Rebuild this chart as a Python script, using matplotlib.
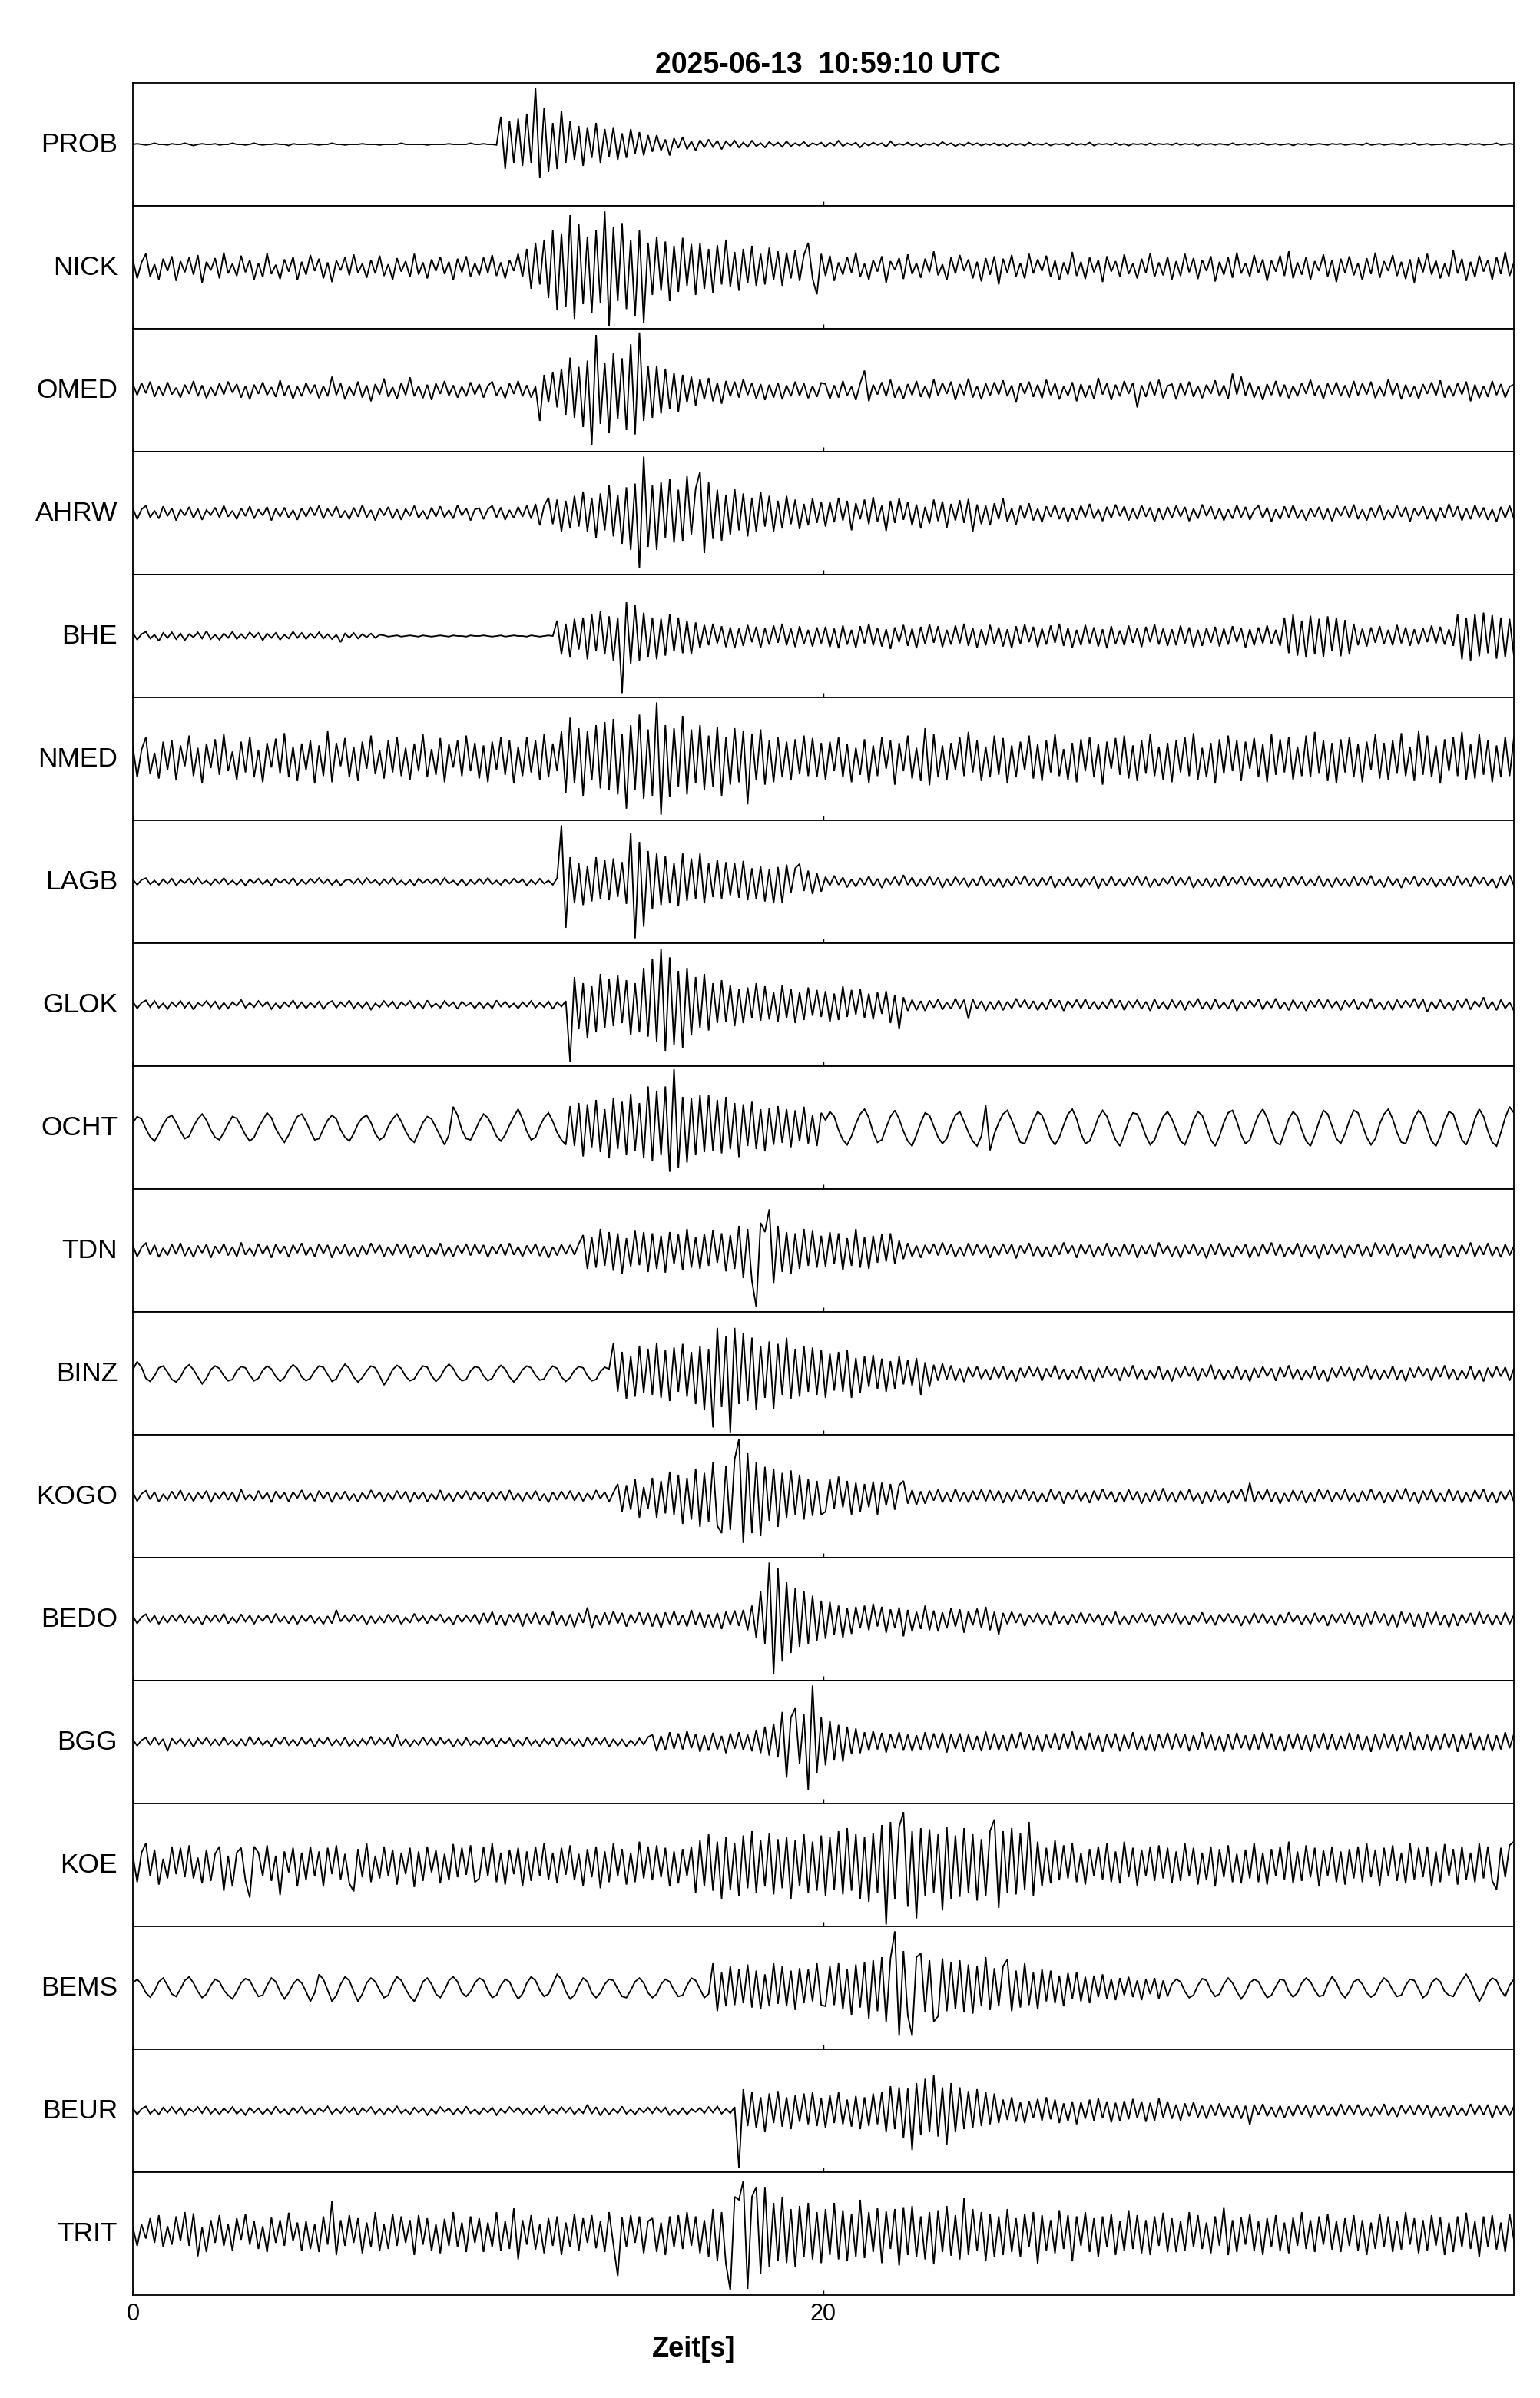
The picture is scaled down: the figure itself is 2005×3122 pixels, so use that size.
import numpy as np
import matplotlib
matplotlib.use("Agg")
import matplotlib.pyplot as plt

plt.rcParams["font.family"] = ["Liberation Sans", "DejaVu Sans"]

TITLE = "2025-06-13  10:59:10 UTC"
XLABEL = "Zeit[s]"
DURATION = 40.0          # seconds shown
XTICKS = [0, 20]
XTICK_LABELS = ["0", "20"]

stations = ["PROB", "NICK", "OMED", "AHRW", "BHE", "NMED", "LAGB", "GLOK", "OCHT",
            "TDN", "BINZ", "KOGO", "BEDO", "BGG", "KOE", "BEMS", "BEUR", "TRIT"]

# normalised amplitudes (percent of half trace height), 8 samples per second
PROB = [0,1,0,-1,0,2,0,0,-1,1, 0,0,2,0,-2,0,1,0,0,1, -1,0,0,2,0,0,-1,0,2,0, -1,0,0,1,0,0,-2,1,0,0,
        0,1,0,-1,0,0,2,0,0,-1, 0,0,0,1,0,0,0,-1,0,0, 0,0,2,0,0,0,0,0,-1,0, 0,0,0,1,0,0,0,0,2,0,
        0,1,0,0,-1,45,-40,38,-30,42, -35,50,-30,92,-55,60,-45,35,-40,55, -30,38,-25,30,-35,28,-22,35,-30,25, -20,28,-25,18,-22,25,-15,20,-18,15,
        -12,15,-10,8,-18,10,-6,12,-8,5, -10,7,-5,8,-4,6,-8,5,-3,6, -5,3,-4,6,-3,2,-5,4,-2,3, -4,5,-3,2,-2,4,-3,2,-1,3,
        -4,3,-2,6,-3,2,-1,3,-5,2, -2,3,-1,2,-4,5,-2,1,-1,3, -2,2,-3,1,-1,2,-2,4,-1,2, -3,1,-2,3,-1,2,-2,1,-1,2,
        -2,1,-3,2,-1,1,-2,3,-1,1, -1,2,-2,1,0,1,-2,2,-1,1, -1,3,-2,1,0,1,-1,2,-1,1, -2,1,0,1,-1,2,-1,1,0,1,
        -1,2,-1,1,0,1,-2,1,0,1, -1,1,0,-1,2,-1,0,1,-1,1, 0,2,-1,0,1,-1,0,1,-2,1, 0,1,-1,0,1,0,-1,1,0,1,
        -1,0,1,0,-1,2,-1,0,1,-1, 0,1,0,-1,1,0,2,-1,0,1, -1,0,0,1,-1,0,1,0,-1,1, 0,1,-1,0,0,2,-1,0,1,0]

NICK = [12,-18,8,22,-15,5,-20,14,-6,18, -22,10,-8,16,-12,20,-25,9,-5,15, -18,24,-10,6,-14,19,-8,12,-20,7, -16,23,-11,4,-19,13,-7,17,-21,9,
        -12,20,-6,14,-18,8,-24,11,-5,16, -13,21,-9,6,-17,12,-10,19,-14,5, -20,15,-7,10,-16,22,-12,8,-18,13, -6,17,-11,9,-21,14,-8,18,-15,7,
        -13,16,-9,20,-14,8,-18,12,-6,22, -16,30,-35,40,-28,45,-50,60,-70,55, -65,85,-84,70,-60,50,-75,60,-58,91, -95,65,-55,72,-68,45,-80,60,-90,40,
        -45,50,-38,42,-55,35,-40,48,-30,38, -45,40,-35,30,-42,36,-28,45,-32,25, -38,30,-26,35,-30,22,-28,32,-20,26, -30,24,-18,28,-22,20,40,-18,-44,22,
        -14,19,-22,8,-12,17,-9,24,-16,6, -20,12,-7,18,-25,10,-4,15,-19,21, -11,7,-17,14,-8,26,-13,5,-21,16, -10,20,-6,13,-18,9,-23,15,-12,18,
        -28,14,-9,20,-15,7,-18,22,-10,13, -6,19,-16,11,-21,8,-12,25,-14,9, -19,16,-8,12,-24,18,-7,10,-15,21, -11,6,-18,14,-9,23,-16,8,-13,17,
        -20,10,-14,22,-8,15,-19,12,-6,18, -23,9,-12,16,-17,24,-10,7,-15,20, -9,13,-22,11,-7,19,-14,26,-18,8, -12,17,-20,10,-6,21,-15,12,-24,14,
        -9,18,-13,7,-21,15,-11,24,-17,10, -6,20,-14,9,-19,13,-25,16,-8,22, -12,11,-18,6,-15,28,-10,14,-22,9, -16,19,-7,12,-20,17,-11,25,-14,8]

OMED = [10,-8,12,-5,14,-11,6,-9,13,-7, 4,-12,9,-6,15,-10,8,-13,5,-9, 11,-7,14,-4,10,-12,7,-15,9,-6, 13,-8,5,-11,16,-9,8,-14,6,-10,
        12,-6,9,-13,7,-10,22,-8,11,-15, 6,-9,14,-12,8,-18,10,-7,19,-11, 5,-14,12,-8,21,-10,7,-13,9,-16, 11,-6,15,-9,8,-12,6,-10,13,-7,
        10,-12,7,14,-9,5,-13,11,-6,15, -10,8,-12,6,-50,25,-20,30,-28,35, -40,53,-45,38,-60,48,-90,90,-55,45, -70,60,-47,52,-65,75,-72,94,-50,40,
        -45,40,-38,35,-30,28,-35,25,-20,22, -25,18,-15,20,-18,12,-22,15,-10,14, -12,18,-8,12,-14,10,-16,9,-12,12, -15,8,-10,14,-9,11,-13,7,-11,12,
        10,-14,8,-12,15,-9,6,-16,11,32, -18,9,-7,13,-10,17,-12,6,-14,10, -8,15,-11,7,-13,18,-9,12,-6,14, -16,10,-8,19,-12,7,-15,11,-9,13,
        -7,16,-10,8,-20,12,-6,14,-11,9, -13,17,-8,11,-15,6,-9,13,-18,10, -12,8,-14,20,-7,11,-16,9,-10,15, -6,12,-28,8,-11,14,-9,17,-13,7,
        10,-15,12,-8,14,-11,7,-13,9,-6, 16,-10,8,-14,27,-7,22,-9,13,-12, 6,-16,10,-8,15,-11,9,-13,7,-10, 12,-6,17,-9,8,-14,11,-7,13,-10,
        8,-12,15,-9,11,-7,14,-13,6,-10, 18,-8,12,-15,9,-11,7,-14,10,-6, 13,-9,16,-12,8,-10,11,-7,14,-18, 9,-13,7,-11,15,-8,10,-12,6,9]

AHRW = [8,-10,6,12,-7,4,-9,11,-5,8, -12,6,-4,10,-8,7,-11,5,-3,9, -7,12,-6,4,-10,8,-5,11,-9,6, -4,10,-12,7,-6,9,-8,5,-11,8,
        -6,10,-4,12,-9,7,-5,11,-8,4, -10,9,-6,13,-7,5,-12,8,-4,10, -9,6,-11,7,-5,12,-8,4,-10,9, -6,11,-7,5,-9,13,-4,8,-12,6,
        8,-10,6,12,-7,9,-11,5,-8,10, -6,12,-9,15,-20,12,25,-18,22,-30, 20,-25,28,-22,35,-30,25,-40,32,-28, 45,-38,30,-50,42,-60,48,-90,92,-55,
        45,-60,50,-40,55,-48,38,-45,60,-35, 40,67,-65,50,-42,38,-45,30,-35,40, -28,32,-38,25,-30,35,-22,28,-30,20, -25,28,-18,22,-26,15,-20,24,-16,18,
        -22,18,-15,25,-12,20,-28,16,-10,22, -18,26,-14,12,-29,20,-16,24,-11,18, -20,14,-25,10,-17,22,-13,19,-24,15, -12,21,-16,23,-30,14,-18,12,-20,16,
        -10,24,-14,8,-19,12,-9,16,-12,7, -15,11,-6,13,-10,9,-14,8,-11,12, -7,15,-9,6,-13,10,-8,14,-5,11, -12,7,-10,13,-6,9,-14,8,-11,10,
        -8,12,-6,10,-13,7,-9,14,-5,11, -10,8,-12,6,-9,13,-7,10,-11,5, 12,-8,9,-14,6,-10,11,-7,13,-9, 5,-12,8,-6,10,-11,7,-13,9,-5,
        11,-8,14,-10,6,-12,9,-7,13,-11, 5,-9,12,-6,10,-14,8,-5,11,-10, 7,-13,9,-8,15,-6,11,-12,8,-10, 13,-7,9,-11,6,-14,10,-8,12,-9]

BHE = [5,-6,3,7,-4,2,-8,5,-3,6, -5,4,-7,3,-2,6,-4,8,-5,2, -6,4,-3,7,-5,3,-4,6,-2,5, -7,4,-3,5,-6,2,-4,7,-3,5,
       -5,4,-3,6,-4,3,-5,2,-10,4, -3,5,-4,3,-2,4,-3,2,1,-1, 0,1,-1,0,1,0,-1,1,0,-1, 0,1,0,-1,1,0,0,-1,1,0,
       0,1,0,-1,0,1,-1,0,1,0, 0,-1,1,0,-1,0,1,0,25,-30, 20,-35,28,-22,30,-38,35,-25,40,-30, 32,-40,30,-93,55,-45,50,-40,38,-35,
       30,-38,28,-32,35,-25,30,-28,25,-30, 22,-20,18,-15,20,-12,16,-18,14,-20, 12,-16,18,-10,15,-19,13,-14,17,-11, 20,-15,12,-18,16,-13,10,-17,14,-12,
       15,-18,12,-20,17,-14,10,-19,16,-12, 20,-15,13,-17,11,-21,14,-10,18,-16, 12,-20,15,-13,19,-11,16,-18,10,-14, 17,-12,20,-16,13,-19,11,-15,18,-13,
       14,-17,11,-20,16,-13,19,-10,15,-18, 12,-14,17,-11,20,-16,13,-19,10,-15, 18,-12,14,-17,11,-20,16,-13,9,-15, 17,-11,13,-18,15,-10,19,-14,12,-16,
       11,-15,17,-12,14,-18,10,-16,13,-11, 15,-17,12,-14,16,-10,13,-19,11,-15, 14,-12,17,-13,10,-16,30,-28,35,-32, 25,-35,33,-30,28,-34,32,-25,30,-33,
       26,-30,20,-15,12,-17,14,-11,16,-13, 10,-15,18,-12,14,-16,11,-14,13,-10, 17,-12,15,-14,11,-16,35,-38,30,-40, 36,-33,38,-28,34,-37,30,-35,28,-32]

NMED = [20,-30,15,35,-25,10,-32,28,-18,30, -35,22,-12,38,-28,18,-40,25,-15,32, -26,40,-20,12,-34,28,-22,36,-30,15, -38,26,-14,33,-24,42,-30,20,-36,25,
        -18,30,-40,22,-28,45,-38,26,-12,34, -30,20,-36,28,-16,38,-25,14,-32,30, -22,36,-28,18,-34,25,-20,40,-30,16, -26,34,-38,24,-14,30,-28,38,-20,26,
        -32,22,-38,28,-18,35,-26,30,-40,20, -28,36,-22,30,-34,40,-30,25,-20,45, -55,67,-40,50,-60,45,-35,55,-48,60, -50,65,-58,40,-81,55,-50,72,-65,48,
        -60,92,-91,55,-62,50,-45,70,-58,48, -40,55,-50,38,-45,52,-60,35,-42,50, -38,45,-74,40,-35,48,-42,30,-38,35, -30,28,-35,32,-25,38,-28,34,-30,26,
        -34,28,-20,36,-30,24,-38,18,-26,32, -40,22,-28,35,-16,30,-42,26,-20,38, -32,18,-36,50,-43,40,-30,22,-34,26, -18,35,-28,44,-22,30,-36,20,-30,38,
        -26,34,-40,22,-30,28,-18,38,-32,24, -36,30,-22,40,-28,16,-34,26,-38,32, -20,36,-30,24,-42,28,-16,34,-26,38, -32,22,-36,30,-24,40,-28,20,-34,26,
        -38,30,-22,36,-28,42,-34,18,-30,26, -40,32,-24,38,-20,30,-36,28,-16,34, -30,24,-38,40,-26,32,-22,36,-34,20, -28,38,-30,44,-24,30,-36,26,-40,32,
        -22,36,-30,24,-38,28,-18,40,-32,26, -34,30,-24,42,-28,20,-36,45,-26,38, -30,22,-40,32,-20,36,-28,44,-34,24, -32,40,-26,30,-38,22,-30,36,-28,34]

LAGB = [4,-5,3,6,-4,2,-5,4,-3,5, -6,3,-2,5,-4,6,-3,2,-5,4, -3,6,-4,2,-5,3,-6,4,-2,5, -4,3,-6,5,-2,4,-3,6,-5,3,
        -4,5,-2,6,-3,4,-5,3,-6,2, 4,-3,5,-4,6,-2,3,-5,4,-3, 6,-4,2,-5,3,-6,5,-2,4,-3, 5,-4,6,-3,2,-5,4,-6,3,-4,
        5,-3,6,-4,2,-5,4,-3,5,-2, 4,-6,3,-4,5,-3,2,-5,6,92, -75,40,-35,30,-38,25,-32,40,-28,35, -30,38,-25,32,-36,79,-92,65,-73,50,
        -45,46,-38,42,-35,30,-40,46,-31,38, -28,46,-35,30,-25,36,-28,32,-22,30, -26,34,-30,22,-28,25,-32,20,-35,24, -35,28,-18,22,29,-15,18,-20,14,-16,
        8,-6,10,-5,7,-9,4,-8,6,-5, 9,-7,5,-10,6,-4,8,-6,11,-5, 7,-8,4,-6,9,-5,7,-10,5,-7, 8,-4,6,-9,5,-7,10,-6,4,-8,
        6,-9,5,-7,8,-4,10,-6,5,-8, 7,-5,9,-10,4,-6,8,-7,5,-9, 6,-4,8,-11,5,-7,9,-6,4,-8, 7,-5,10,-6,8,-9,5,-7,6,-4,
        9,-6,7,-5,8,-10,4,-7,6,-9, 5,-8,10,-6,7,-4,9,-5,8,-7, 4,-9,6,-8,5,-10,7,-6,9,-5, 8,-7,4,-6,10,-8,5,-9,7,-6,
        5,-8,9,-6,7,-5,10,-7,4,-9, 8,-6,5,-10,7,-4,9,-8,6,-5, 7,-9,4,-6,8,-7,10,-5,6,-8, 9,-4,7,-6,5,-10,8,-7,11,-6]

GLOK = [5,-6,3,7,-4,6,-5,2,-7,4, -3,6,-5,4,-8,3,-2,6,-4,5, -7,3,-6,4,-2,8,-5,3,-4,6, -3,5,-7,2,-6,4,-3,7,-5,4,
        -6,3,-4,5,-7,2,6,-5,4,-3, 7,-6,3,-5,4,-8,2,-4,6,-3, 5,-7,4,-2,6,-5,3,-6,7,-4, 2,-5,6,-3,4,-7,5,-2,3,-6,
        4,-5,3,-6,7,-3,5,-4,2,-6, 4,-3,6,-5,3,-4,5,-7,4,-3, 6,-93,45,-40,35,-55,30,-45,50,-38, 42,-35,48,-30,40,-50,35,-45,60,-52,
        75,-60,90,-75,77,-65,55,-70,60,-50, 45,-38,50,-42,35,-30,40,-28,32,-35, 25,-30,28,-22,35,-26,30,-24,20,-28, 32,-22,26,-30,20,-25,28,-18,24,-20,
        22,-28,18,-25,30,-20,24,-16,26,-22, 18,-24,20,-15,22,-30,16,-40,12,-10, 8,-9,6,-10,7,-5,9,-8,4,-7, 10,-6,8,-23,9,-7,6,-10,5,-8,
        7,-9,5,-6,10,-4,8,-7,6,-9, 4,-8,9,-5,7,-10,6,-4,8,-6, 9,-7,5,-8,4,-6,10,-5,7,-9, 6,-4,8,-7,5,-10,9,-6,4,-8,
        8,-5,7,-9,6,-4,10,-7,5,-8, 9,-6,4,-7,8,-10,5,-6,7,-4, 9,-8,6,-5,10,-7,4,-9,8,-6, 5,-10,7,-4,9,-6,8,-5,6,-9,
        7,-4,9,-8,5,-6,10,-7,4,-8, 6,-9,8,-5,7,-4,10,-6,9,-12, 5,-7,8,-6,4,-9,7,-5,10,-8, 6,-4,12,-7,5,-9,8,-6,4,-10]

OCHT = [8,18,14,-2,-15,-22,-10,5,16,20, 8,-6,-18,-14,2,14,22,12,-4,-16, -20,-8,6,18,15,2,-12,-22,-16,0, 12,24,16,-2,-14,-24,-12,4,18,22,
        10,-6,-20,-18,-2,12,20,14,-4,-16, -22,-10,6,16,20,8,-10,-20,-15,2, 14,22,10,-6,-18,-24,-8,8,18,14, 0,-14,-28,-12,34,20,-4,-18,-20,-6,
        10,22,16,2,-14,-22,-12,4,18,30, 14,-6,-20,-16,2,16,24,10,-8,-20, -28,35,-30,40,-47,38,-32,45,-40,30, -50,48,-35,42,-45,55,-38,40,-50,67,
        -55,60,-45,67,-72,95,-65,50,-57,48, -45,53,-40,53,-38,45,-42,50,-35,40, -48,38,-30,42,-35,30,-38,32,-28,35, -25,30,-32,28,-22,34,-26,20,-30,24,
        12,26,18,-4,-20,-28,-14,6,22,30, 16,-8,-24,-20,0,18,28,14,-6,-22, -30,-12,8,24,20,2,-16,-26,-18,4, 20,26,10,-8,-22,-30,-14,36,-37,-10,
        8,22,28,12,-6,-24,-26,-8,12,26, 20,2,-18,-28,-16,4,22,30,14,-10, -26,-22,-4,16,28,18,-2,-20,-30,-12, 10,24,22,6,-14,-28,-20,0,18,26,
        14,-4,-22,-28,-10,12,26,20,0,-20, -30,-14,8,24,28,10,-12,-26,-20,2, 20,30,16,-6,-24,-28,-8,14,26,18, -4,-22,-30,-12,10,28,22,2,-18,-26,
        -10,12,28,24,4,-16,-28,-18,6,22, 30,14,-8,-24,-26,-6,16,28,20,-2, -22,-30,-14,10,26,22,0,-20,-28,-10, 14,30,18,-6,-24,-30,-8,16,34,24]

TDN = [8,-10,5,12,-7,9,-11,4,-8,10, -6,12,-9,5,-11,8,-4,10,-12,7, -5,11,-8,6,-10,13,-7,4,-9,11, -6,8,-12,10,-5,7,-11,9,-4,12,
       -8,6,-10,11,-5,9,-12,7,-6,10, -9,5,-11,8,-7,12,-4,9,-10,6, -8,11,-5,10,-12,7,-6,9,-11,5, -7,12,-9,6,-10,8,-5,11,-8,10,
       -6,9,-11,7,-5,10,-8,12,-7,6, -10,8,-5,11,-9,7,-12,6,-8,10, -6,9,-7,11,25,-30,22,-28,35,-25, 30,-33,28,-38,20,-26,32,-24,30,-35,
       28,-30,24,-36,30,-22,26,-32,35,-28, 22,-30,27,-25,33,-20,28,-34,25,-30, 40,-45,35,-50,-92,45,30,67,-54,40, -35,30,-38,28,-30,35,-25,32,-28,24,
       -26,30,-22,28,-32,20,-25,35,-28,22, -30,24,-20,26,-18,28,-22,16,-14,12, -10,8,-12,9,-6,11,-8,13,-7,10, -11,6,-9,12,-8,10,-5,9,-12,7,
       -8,11,-6,10,-13,8,-5,12,-9,7, -11,6,-10,9,-7,13,-5,8,-12,10, -6,9,-11,7,-8,12,-10,5,-9,11, -7,10,-12,8,-6,9,-11,13,-5,8,
       -10,7,-12,9,-6,11,-8,5,-13,10, -7,12,-9,6,-11,8,-5,10,-12,7, -9,11,-6,13,-8,10,-10,5,-7,12, -11,9,-6,8,-13,11,-7,10,-5,9,
       -12,8,-6,11,-9,7,-10,13,-5,9, -8,12,-11,6,-7,10,-13,8,-6,11, -9,5,-12,10,-8,7,-11,9,-6,13, -10,8,-7,12,-9,6,-11,10,-8,7]

BINZ = [6,19,10,-8,-13,-4,9,12,2,-10, -14,-6,8,14,6,-6,-17,-8,6,12, 8,-4,-12,-10,4,11,9,-3,-12,-8, 5,12,7,-5,-13,-7,6,14,8,-6,
        -12,-8,4,12,10,-2,-13,-9,5,15, 8,-6,-14,-7,4,12,9,-4,-19,-8, 6,13,8,-5,-12,-9,3,12,10,-4, -13,-6,7,15,8,-5,-12,-10,4,11,
        9,-4,-12,-8,5,13,7,-6,-14,-6, 6,12,9,-3,-11,-9,4,12,8,-6, -13,-7,5,11,9,-4,-12,-10,3,10, 7,49,-30,35,-42,28,-38,45,-32,40,
        -35,50,-40,38,-45,42,-30,48,-38,35, -50,45,-60,40,-88,74,-55,60,-96,74, -50,65,-45,58,-60,45,-40,52,-58,48, -35,58,-42,40,-38,45,-30,42,-35,38,
        -40,32,-28,35,-30,38,-40,25,-32,28, -22,30,-26,24,-30,20,-25,28,-18,22, -20,25,-35,18,-22,14,-12,16,-10,13, -12,8,-14,10,-6,12,-9,7,-11,10,
        -8,12,-10,6,-13,9,-7,11,-5,10, -12,8,-6,13,-9,7,-11,5,-8,12, -10,6,-13,9,-7,11,-5,8,-12,10, -6,13,-9,7,-11,5,-8,12,-10,6,
        -13,9,-7,11,-5,10,-12,8,-6,14, -9,7,-11,5,-8,12,-10,6,-13,9, -7,11,-5,8,-12,10,-6,13,-9,7, -11,5,-8,12,-10,6,-13,9,-7,11,
        -5,10,-12,8,-6,13,-9,7,-11,5, -8,12,-10,6,-13,9,-7,11,-5,8, -12,10,-6,13,-9,7,-11,5,-8,12, -10,6,-13,9,-7,11,-5,10,-12,8]

KOGO = [6,-8,4,9,-5,7,-9,3,-6,8, -4,10,-7,5,-8,6,-3,9,-10,5, -4,8,-6,7,-9,11,-5,3,-7,9, -5,6,-10,8,-4,6,-9,7,-3,10,
        -6,5,-8,9,-4,7,-10,6,-5,8, -7,4,-9,6,-5,10,-3,7,-8,5, -6,9,-4,8,-10,6,-5,7,-9,4, -6,10,-7,5,-8,6,-4,9,-6,8,
        -5,7,-9,6,-4,8,-7,10,-6,5, -8,6,-5,9,-7,4,-10,7,-6,8, -5,9,-7,6,-8,5,-6,10,-4,7, -9,6,20,-25,18,-22,28,-35,15,-20,
        30,-35,25,-28,40,-30,35,-45,30,-38, 45,-50,38,-42,55,-48,-60,50,-55,60, 93,-76,70,-60,55,-65,48,-40,45,-50, 38,-35,42,-30,35,-38,28,-32,25,-30,
        -25,28,-20,32,-18,25,-30,22,-26,20, -18,24,-30,22,-15,20,-22,18,25,-12, 10,-14,8,-12,9,-7,11,-10,6,-9, 12,-8,7,-10,9,-6,11,-8,10,-7,
        9,-11,6,-8,10,-5,12,-7,8,-10, 5,-9,11,-6,8,-12,7,-5,10,-8, 6,-11,9,-7,12,-5,8,-10,7,-9, 11,-6,8,-12,5,-9,10,-7,13,-8,
        7,-10,9,-6,11,-8,5,-12,8,-9, 10,-7,6,-11,9,-5,12,-8,22,-10, 8,-6,11,-9,7,-12,5,-8,10,-7, 9,-11,6,-8,12,-5,10,-9,7,-6,
        11,-8,5,-10,9,-7,12,-6,8,-11, 6,-9,10,-5,13,-8,7,-12,9,-6, 11,-10,5,-8,12,-7,9,-11,6,-8, 10,-5,12,-9,7,-11,8,-6,10,-9]

BEDO = [5,-7,3,8,-5,6,-8,4,-6,7, -3,8,-6,5,-7,4,-9,6,-4,7, -5,9,-7,3,-6,8,-4,6,-8,5, -3,7,-6,9,-5,4,-7,6,-8,5,
        -4,7,-6,3,-8,5,-7,15,-4,6, -5,8,-3,6,-9,5,-7,4,-6,8, -5,7,-8,3,-6,9,-4,5,-7,6, -3,8,-6,4,-9,7,-5,6,-4,8,
        -8,10,-6,12,-9,7,-11,8,-5,10, -12,9,-7,11,-8,6,-10,12,-9,7, -11,8,-13,10,-6,19,-15,7,-10,11, -8,13,-7,10,-12,8,-6,11,-9,10,
        -12,9,-14,11,-8,13,-10,7,-12,15, -9,11,-14,8,-13,10,-16,12,-9,14, -11,15,-18,22,-30,45,-40,92,-90,83, -69,60,-55,50,-45,46,-40,38,-35,30,
        -32,28,-25,22,-30,18,-24,20,-15,22, -18,25,-12,20,-22,16,-14,19,-28,15, -20,12,-16,22,-18,14,-20,11,-15,18, -12,16,-22,13,-10,17,-14,20,-18,12,
        -25,10,-8,12,-6,9,-11,7,-5,10, -8,6,-10,12,-7,5,-9,8,-6,11, -7,9,-5,8,-10,6,-7,12,-8,5, -9,7,-6,10,-5,8,-11,6,-7,9,
        -6,10,-8,5,-9,7,-5,11,-7,6, -10,8,-5,9,-6,7,-11,5,-8,10, -6,9,-7,5,-10,8,-6,11,-5,7, -9,6,-8,10,-5,7,-11,8,-6,9,
        -7,11,-9,6,-12,10,-8,13,-6,9, -11,8,-13,12,-7,10,-12,9,-14,11, -8,12,-10,7,-13,9,-11,8,-6,10, -9,12,-7,8,-10,6,-9,11,-8,7]

BGG = [4,-6,3,7,-5,8,-4,5,-15,6, -3,5,-6,4,-8,6,-3,7,-5,4, -6,8,-4,3,-7,5,-6,9,-4,6, -5,3,-7,6,-4,8,-5,4,-6,7,
       -4,6,-8,5,-3,7,-6,4,-5,8, -7,3,-6,5,-4,9,-5,6,-3,7, -8,12,-6,5,-7,3,-5,8,-4,6, -6,7,-3,5,-8,4,-6,7,-5,3,
       -5,7,-4,6,-8,5,-3,6,-7,4, -6,8,-5,3,-7,5,-4,6,-8,7, -3,5,-6,4,-7,8,-5,6,-4,7, -8,5,-6,4,-7,3,-5,6,-4,8,
       12,-15,10,-13,16,-11,14,-12,18,-10, 13,-16,11,-14,15,-12,10,-18,14,-11, 16,-13,12,-15,20,-18,25,-22,30,-25, 49,-58,40,55,-35,45,-78,92,-50,40,
       -38,35,-30,28,-32,25,-20,22,-18,16, -14,18,-12,15,-17,13,-10,16,-14,12, -15,11,-13,16,-12,14,-10,15,-17,13, -11,14,-16,12,-13,10,-15,17,-12,14,
       -13,11,-15,14,-10,16,-12,13,-14,11, -16,12,-10,15,-13,14,-11,17,-12,10, -14,15,-12,11,-16,13,-10,14,-15,12, -11,16,-13,10,-14,12,-15,13,-10,15,
       -12,14,-10,13,-15,11,-13,16,-11,12, -14,10,-16,13,-12,15,-10,11,-14,13, -12,16,-11,14,-13,10,-15,12,-11,14, -13,11,-16,12,-10,15,-12,13,-14,10,
       -11,15,-13,12,-14,10,-16,13,-12,14, -10,13,-15,11,-12,16,-14,10,-13,12, -15,11,-12,14,-10,13,-16,12,-11,15, -13,10,-14,12,-15,11,-12,16,-10,13]

KOE = [15,-28,20,35,-18,25,-32,10,-22,30, -15,28,-20,32,-22,12,-30,25,-26,18, 30,-42,15,-35,20,28,-25,-53,30,20, -18,32,-26,15,-49,22,-12,28,-35,20,
       -25,30,-18,22,-35,28,-15,32,-24,18, -30,-43,26,-20,35,-28,15,-22,30,-18, 25,-32,20,-15,28,-36,22,-26,30,-12, 24,-30,18,-25,34,-20,28,-16,32,-28,
       -22,30,-18,35,-28,20,-32,25,-15,28, -35,22,-26,30,-18,36,-24,20,-30,28, -16,32,-25,18,-34,26,-20,30,-38,22, -28,35,-18,26,-32,20,-28,38,-22,30,
       -25,32,-20,28,-35,22,-30,26,-18,30, -45,40,-35,50,-42,38,-55,45,-40,35, -50,48,-38,55,-45,40,-35,52,-48,42, -38,45,-55,40,-35,50,-45,38,-42,48,
       -50,45,-40,55,-48,60,-42,50,-55,45, -60,52,-45,65,-97,70,-55,62,86,-68, 55,-87,60,-50,58,-45,50,-74,62,-55, 48,-52,60,-45,50,-58,42,-50,55,74,
       -70,55,-45,60,-48,52,-40,70,-50,38, -35,28,-30,40,-25,32,-22,35,-28,20, -32,26,-18,30,-24,35,-28,22,-30,38, -20,28,-34,25,-18,30,-26,32,-22,28,
       -30,22,-26,35,-18,28,-32,20,-25,30, -35,26,-20,32,-28,18,-30,25,-22,36, -28,20,-32,26,-18,30,-24,38,-30,22, -26,32,-20,28,-35,24,-18,30,-28,22,
       -32,26,-22,30,-28,35,-20,25,-34,28, -18,32,-26,20,-30,36,-24,28,-20,30, -35,22,-28,34,-18,26,-32,30,-24,20, -28,35,-22,30,-26,-40,28,-20,32,38]

BEMS = [8,14,6,-8,-15,-5,10,16,4,-10, -14,-2,12,18,8,-6,-16,-10,4,14, 10,-4,-12,-18,-6,8,15,12,-2,-14, -12,4,16,10,-6,-18,-8,6,14,8,
        -6,-22,-8,22,14,-4,-22,-12,6,18, 12,-6,-22,-10,8,16,10,-4,-16,-12, 6,18,12,-2,-14,-22,-8,10,16,6, -10,-16,-4,12,18,10,-8,-14,-6,8,
        16,12,-4,-16,-12,4,14,10,-6,-18, -10,8,18,12,-4,-14,-10,6,22,14, -6,-18,-12,4,16,10,-8,-16,-8,6, 14,12,-2,-14,-16,-4,10,16,8,-8,
        -16,-10,6,14,10,-4,-14,-12,4,16, 12,-2,-16,-10,40,-38,25,-30,35,-28, 30,-25,38,-32,28,-35,22,-30,40,-26, 35,-30,28,-36,32,-25,30,-22,40,-28,
        -30,35,-28,40,-35,30,-45,38,-32,42, -50,45,-38,50,-55,48,92,-78,60,-45, -78,50,56,-40,45,-55,-46,48,-38,42, -35,45,-40,38,-42,35,-30,50,-36,32,
        -30,35,46,-38,28,-32,40,-28,25,-35, 30,-22,28,-25,20,-30,24,-18,26,-22, 18,-25,20,-15,22,-18,14,-20,16,-12, 18,-15,12,-20,14,-10,16,-18,12,-14,
        6,14,10,-6,-16,-12,4,15,12,-4, -14,-10,6,16,8,-6,-18,-8,8,14, 10,-4,-16,-12,2,14,12,-6,-15,-8, 8,16,10,-4,-14,-12,6,18,8,-8,
        -16,-6,10,14,6,-8,-15,-10,6,16, 10,-4,-14,-12,4,14,12,-2,-16,-10, 8,16,10,-6,-12,-14,0,12,22,10, -6,-22,-10,8,16,12,-4,-14,4,14]

BEUR = [4,-6,3,7,-5,2,-6,5,-3,6, -4,5,-7,3,-2,6,-4,7,-5,3, -6,4,-3,6,-5,2,-7,5,-3,4, -6,3,-5,7,-4,2,-6,5,-3,6,
        -5,3,-6,4,-2,7,-5,3,-4,6, -3,5,-7,4,-2,6,-5,3,-6,4, -3,7,-4,2,-6,5,-3,4,-7,3, -5,6,-2,4,-6,3,-5,7,-4,2,
        -6,4,-3,5,-7,3,-4,6,-2,5, -5,3,-6,4,-3,7,-5,2,-4,6, -3,5,-6,3,-4,10,-5,6,-8,4, -6,3,-4,7,-5,2,-6,4,-3,5,
        -4,6,-3,5,-7,2,-5,4,-6,3, -2,5,-4,6,-3,7,-5,3,-4,6, -93,35,-25,30,-28,22,-35,28,-20,32, -26,22,-30,25,-18,28,-22,30,-25,20,
        -28,25,-20,30,-22,18,-26,24,-30,22, -25,28,-22,30,-35,40,-30,38,-45,36, -64,45,-40,52,-35,58,-42,38,-55,45, -35,38,-30,32,-28,35,-25,30,-22,28,
        -20,18,-15,22,-18,14,-20,16,-12,19, -16,22,-14,18,-20,12,-17,15,-22,14, -13,18,-16,20,-12,15,-19,13,-17,16, -14,19,-12,15,-18,13,-16,20,-11,15,
        -13,10,-16,12,-9,14,-11,8,-13,10, -8,12,-10,7,-11,9,-13,8,-23,10, -7,11,-9,6,-10,8,-12,7,-9,10, -6,9,-11,8,-7,10,-8,6,-9,11,
        -7,9,-6,10,-8,5,-9,7,-6,11, -8,6,-10,9,-5,8,-7,10,-6,9, -11,7,-8,6,-10,9,-7,5,-8,11, -6,9,-7,10,-12,8,-6,9,-8,7]

TRIT = [10,-20,15,-8,25,-15,30,-22,12,-18, 28,-12,35,-20,33,-37,10,-30,22,-15, 30,-20,15,-28,25,-10,32,-18,20,-25, 12,-30,26,-15,22,-20,34,-12,18,-28,
        20,-25,15,-30,28,-18,53,-35,22,-20, 30,-15,25,-32,18,-22,35,-28,15,-25, 32,-20,28,-15,22,-35,30,-18,25,-28, 15,-32,24,-20,35,-22,18,-30,28,-15,
        25,-30,18,-22,35,-28,20,-25,41,-42, 22,-18,30,-26,15,-32,25,-20,28,-35, 18,-22,32,-28,25,-15,30,-24,20,-30, 35,-18,-69,26,-22,30,-15,28,-32,20,
        25,-30,18,-35,28,-22,30,-25,35,-20, 28,-32,22,-38,40,-45,35,-50,-92,60, 55,86,-90,60,76,-65,76,-55,50,-45, 60,-48,40,-55,45,-38,50,-42,35,-48,
        40,-35,50,-42,38,-45,32,-38,55,-40, 35,-30,42,-48,36,-25,40,-52,43,-35, 45,-38,28,-42,35,-50,38,-30,45,-36, 30,-42,58,-35,40,-28,35,-45,32,-38,
        28,-35,40,-30,25,-38,32,-22,35,-49, 30,-28,22,-32,38,-25,30,-45,28,-20, 35,-30,25,-38,28,-22,32,-35,20,-28, 38,-25,30,-32,22,-35,28,-20,34,-30,
        25,-30,20,-28,35,-22,30,-25,18,-32, 28,-20,43,-35,22,-30,26,-18,32,-28, 20,-35,25,-22,30,-28,18,-32,26,-20, 35,-25,22,-30,28,-18,32,-26,20,-30,
        25,-20,30,-28,22,-35,18,-25,32,-22, 28,-30,20,-26,35,-18,25,-32,22,-28, 30,-20,26,-35,18,-30,28,-22,34,-25, 20,-38,28,-22,30,-26,18,-30,32,-10]

traces = [PROB, NICK, OMED, AHRW, BHE, NMED, LAGB, GLOK, OCHT,
          TDN, BINZ, KOGO, BEDO, BGG, KOE, BEMS, BEUR, TRIT]

W, H = 2005, 3122
fig = plt.figure(figsize=(W / 100, H / 100), dpi=100)
axes = fig.subplots(len(stations), 1, sharex=True, gridspec_kw=dict(hspace=0))
fig.subplots_adjust(left=173 / W, right=1971 / W, top=1 - 108 / H, bottom=1 - 2988 / H)

for ax, name, vals in zip(axes, stations, traces):
    y = np.asarray(vals, dtype=float)
    t = np.linspace(0, DURATION, len(y))
    ax.plot(t, y, color="black", lw=1.35, solid_joinstyle="miter")
    ax.set_xlim(0, DURATION)
    ax.set_ylim(-100, 100)
    ax.set_yticks([])
    ax.set_xticks(XTICKS)
    ax.tick_params(axis="x", direction="in", length=4.5, width=1.0, labelsize=22, pad=7)
    for sp in ax.spines.values():
        sp.set_linewidth(1.3)
    ax.text(-0.0111, 0.5, name, transform=ax.transAxes, ha="right", va="center",
            fontsize=25.5)

axes[-1].set_xticklabels(XTICK_LABELS)

fig.text(1078 / W, 1 - 95 / H, TITLE, ha="center", va="baseline",
         fontsize=27, fontweight="bold")
fig.text(903 / W, 1 - 3068 / H, XLABEL, ha="center", va="baseline",
         fontsize=26, fontweight="bold")

fig.savefig("out.png", dpi=100)
